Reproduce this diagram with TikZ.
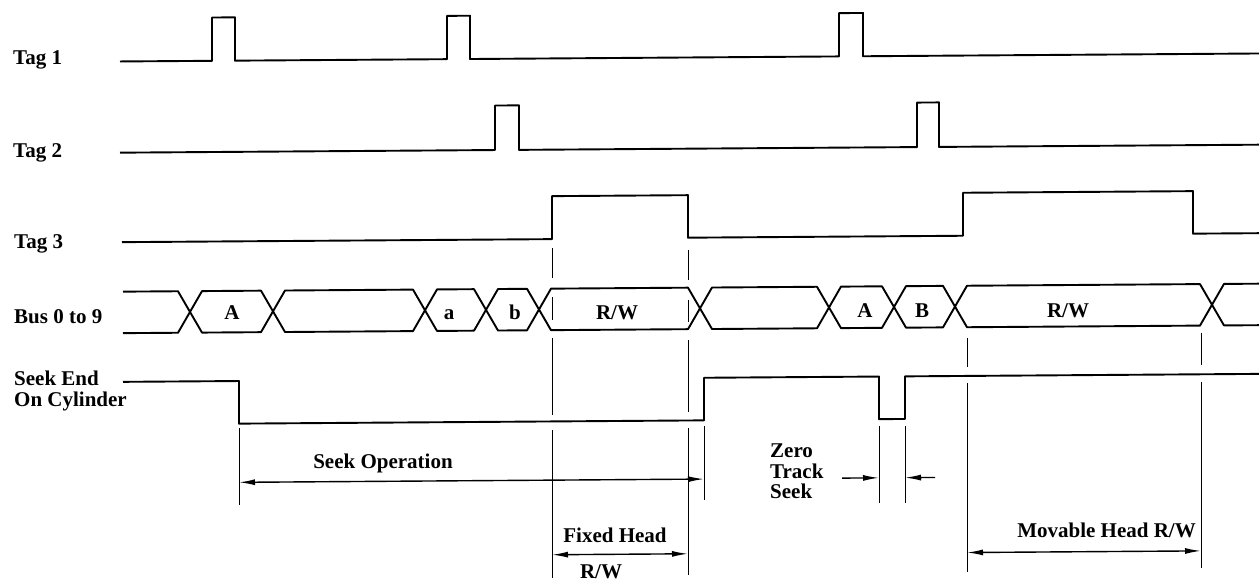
\documentclass[tikz,border=0pt]{standalone}
\usepackage{fontspec}
\setmainfont{Liberation Serif}
\usetikzlibrary{arrows.meta}
\begin{document}
\begin{tikzpicture}[x=1pt,y=-1pt,
  sig/.style={line width=1.9pt, line join=round},
  marker/.style={line width=1pt},
  dimline/.style={line width=1.4pt, {Latex[length=16pt,width=6pt]}-{Latex[length=16pt,width=6pt]}},
  dimone/.style={line width=1.4pt, -{Latex[length=16pt,width=6pt]}},
  lbl/.style={font=\fontsize{21}{21}\selectfont\bfseries, inner sep=0pt, anchor=base},
  lbll/.style={lbl, anchor=base west}]
\useasboundingbox (0,0) rectangle (1259,581);

% ---------- left labels ----------
\node[lbll] (t1) at (13,64) {Tag 1};
\node[lbll] (t2) at (13,157) {Tag 2};
\node[lbll] (t3) at (14,248) {Tag 3};
\node[lbll] (bus) at (14,323) {Bus 0 to 9};
\node[lbll] (se1) at (14,385.5) {Seek End};
\node[lbll] (se2) at (14,406.5) {On Cylinder};

% ---------- texts ----------
\node[lbl] (bA) at (232,319) {A};
\node[lbl] (ba) at (449,319) {a};
\node[lbl] (bb) at (515,319) {b};
\node[lbl] (bRW1) at (617,319) {R/W};
\node[lbl] (bA2) at (865,317) {A};
\node[lbl] (bB) at (922,317) {B};
\node[lbl] (bRW2) at (1068,317) {R/W};

\node[lbl] (seekop) at (383,468) {Seek Operation};
\node[lbl] (fixed) at (615,542.5) {Fixed Head};
\node[lbl] (fixedrw) at (601,578.5) {R/W};
\node[lbll] (zero) at (770,457.5) {Zero};
\node[lbll] (track) at (770,478) {Track};
\node[lbll] (zseek) at (770,498.5) {Seek};
\node[lbl] (movable) at (1106.5,537.5) {Movable Head R/W};

\begin{scope}[yslant=0.007]
% ---------- Tag 1 ----------
\draw[sig] (120,62.3) -- (212,62.3) -- (212,19) -- (235,19) -- (235,62.3)
  -- (447,62.3) -- (447,19) -- (470,19) -- (470,62.3)
  -- (839,62.3) -- (839,19) -- (863,19) -- (863,62.3) -- (1265,62.3);
% ---------- Tag 2 ----------
\draw[sig] (120,153.5) -- (495,153.5) -- (495,109) -- (519,109) -- (519,153.5)
  -- (917,153.5) -- (917,109) -- (939,109) -- (939,153.5) -- (1265,153.5);
% ---------- Tag 3 ----------
\draw[sig] (122,243) -- (552,243) -- (552,200) -- (688,200) -- (688,242.5)
  -- (963,242.5) -- (963,199.5) -- (1193,199.5) -- (1193,242) -- (1265,242);
% ---------- Bus ----------
\def\T{292.5}\def\B{334}
\draw[sig] (123,\T) -- (178,\T) -- (202,\B) -- (261,\B) -- (285,\T)
  -- (413,\T) -- (437,\B) -- (474,\B) -- (498,\T) -- (527,\T) -- (551,\B)
  -- (688,\B) -- (712,\T) -- (817,\T) -- (841,\B) -- (882,\B) -- (906,\T)
  -- (943,\T) -- (967,\B) -- (1200,\B) -- (1224,\T) -- (1265,\T);
\draw[sig] (123,\B) -- (178,\B) -- (202,\T) -- (261,\T) -- (285,\B)
  -- (413,\B) -- (437,\T) -- (474,\T) -- (498,\B) -- (527,\B) -- (551,\T)
  -- (688,\T) -- (712,\B) -- (817,\B) -- (841,\T) -- (882,\T) -- (906,\B)
  -- (943,\B) -- (967,\T) -- (1200,\T) -- (1224,\B) -- (1265,\B);
% ---------- Seek End ----------
\draw[sig] (123,382.7) -- (239,382.7) -- (239,425.3) -- (704,425.3) -- (704,382.7)
  -- (879,382.7) -- (879,425.3) -- (905,425.3) -- (905,382.7) -- (1265,382.7);

% ---------- marker lines ----------
\draw[marker] (552,252) -- (552,282) (552,301) -- (552,324)
  (552,342) -- (552,419) (552,434) -- (552,582);
\draw[marker] (688,255) -- (688,285) (688,305) -- (688,327)
  (688,345) -- (688,417) (688,433) -- (688,580);
\draw[marker] (704,431) -- (704,505);
\draw[marker] (239,430) -- (239,507);
\draw[marker] (879,432) -- (879,509);
\draw[marker] (905,432) -- (905,509);
\draw[marker] (967,345) -- (967,374) (967,390) -- (967,579);
\draw[marker] (1201,341) -- (1201,373) (1201,390) -- (1201,576);

% ---------- dimension arrows ----------
\coordinate (soL) at (239,484);
\coordinate (soR) at (704,484);
\coordinate (fhL) at (552,558.6);
\coordinate (fhR) at (688,558.6);
\coordinate (zL0) at (842,484);
\coordinate (zL1) at (879,484);
\coordinate (zR0) at (935,484);
\coordinate (zR1) at (905,484);
\coordinate (mhL) at (967,559.3);
\coordinate (mhR) at (1201,559.3);
\draw[dimline] (soL) -- (soR);
\draw[dimline] (fhL) -- (fhR);
\draw[dimone] (zL0) -- (zL1);
\draw[dimone] (zR0) -- (zR1);
\draw[dimline] (mhL) -- (mhR);
\end{scope}
\end{tikzpicture}
\end{document}
